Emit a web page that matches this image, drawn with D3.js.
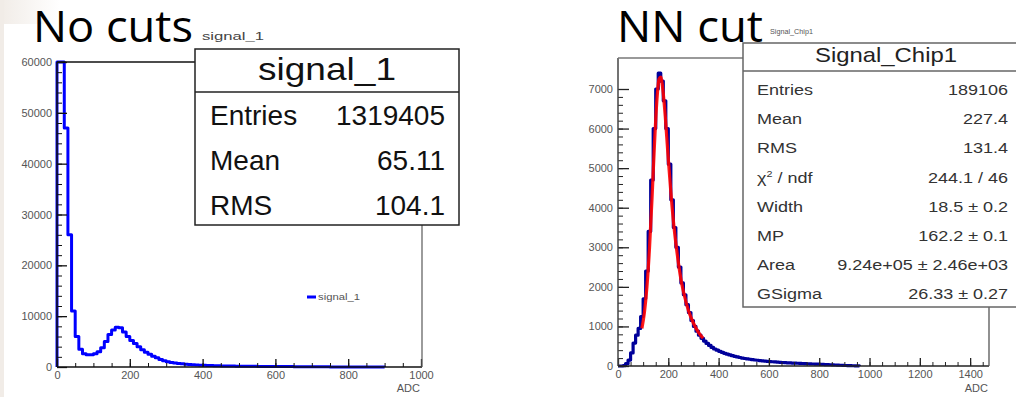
<!DOCTYPE html>
<html><head><meta charset="utf-8">
<script src="https://cdn.jsdelivr.net/npm/d3@7"></script>
<style>
html,body{margin:0;padding:0;background:#fff;}
svg{display:block;}
</style></head>
<body>
<svg id="c" width="1016" height="397" font-family="'Liberation Sans',Arial,Helvetica,sans-serif"></svg>
<script>
// ---------- DATA ----------
const binWidth = 10; // ADC per bin
// Left: "No cuts" histogram counts, bins of 10 ADC starting at 0
const leftCounts = [
 60000,60000,47000,26000,11000,6000,3500,2600,2400,2400,
 2600,3000,3800,5000,6400,7300,7800,7700,6900,6000,
 5200,4600,4000,3400,2900,2500,2100,1800,1500,1250,
 1050,900,800,700,620,550,490,440,400,360,
 330,300,280,260,240,220,200,190,180,170,
 160,150,140,130,125,120,115,110,105,100,
 95,90,85,80,75,70,65,60,55,50,
 45,40,35,30,25,20,15,12,10,8,
 6,5,4,3,3,2,2,1,1,1
];
// Right: "NN cut" histogram counts, bins of 10 ADC starting at 0
const rightCounts = [
 0,0,10,60,150,330,580,780,950,1250,
 1700,2400,3400,4700,6000,7000,7400,7200,6700,6000,
 5100,4200,3500,3000,2500,2100,1800,1550,1350,1150,
 1000,880,780,700,630,570,520,470,430,400,
 370,345,320,300,280,260,245,230,215,200,
 190,180,170,160,152,145,138,130,124,118,
 112,107,102,97,93,89,85,81,78,75,
 72,69,66,63,60,57,54,51,48,45,
 42,40,37,34,31,28,25,22,19,16,
 13,10,8,6,4,2
];
// Fit curve (Landau x Gauss): [ADC, counts]
const fitADC    = [95,105,115,125,135,145,155,163,170,178,188,198,210,222,235,250,265,280,300,320,338];
const fitCounts = [950,1350,2000,2950,4200,5600,6750,7250,7300,7000,6300,5400,4400,3550,2850,2200,1750,1400,1080,850,700];

const leftYTicks  = [0,10000,20000,30000,40000,50000,60000];
const leftXTicks  = [0,200,400,600,800,1000];
const rightYTicks = [0,1000,2000,3000,4000,5000,6000,7000];
const rightXTicks = [0,200,400,600,800,1000,1200,1400];

const leftStatLabels  = ["Entries","Mean","RMS"];
const leftStatValues  = ["1319405","65.11","104.1"];
const rightStatLabels = ["Entries","Mean","RMS","χ2 / ndf","Width","MP","Area","GSigma"];
const rightStatValues = ["189106","227.4","131.4","244.1 / 46","18.5 ± 0.2","162.2 ± 0.1","9.24e+05 ± 2.46e+03","26.33 ± 0.27"];

// ---------- DRAW ----------
const svg = d3.select("#c");
const defs = svg.append("defs");
const gr = defs.append("linearGradient").attr("id","tl").attr("x1","0").attr("x2","1");
gr.append("stop").attr("offset","0").attr("stop-color","#f1ece7");
gr.append("stop").attr("offset","1").attr("stop-color","#ffffff");
defs.append("filter").attr("id","soft").append("feGaussianBlur").attr("stdDeviation",0.45);
svg.append("rect").attr("x",0).attr("y",0).attr("width",60).attr("height",24).attr("fill","url(#tl)");
svg.append("rect").attr("x",0).attr("y",0).attr("width",4).attr("height",397).attr("fill","#f1ece7");

function histPath(counts, x, y){
  const pts = counts.map((v,i)=>[i*binWidth, v]);
  pts.unshift([0,0]);
  pts.push([counts.length*binWidth, 0]);
  return d3.line().x(d=>x(d[0])).y(d=>y(d[1])).curve(d3.curveStepAfter)(pts);
}

function drawAxes(g, x, y, opt){
  const yMinor = d3.range(0, y.domain()[1]+1e-9, opt.yMinor).filter(v=>y(v)>=opt.top-0.5);
  g.append("g").attr("transform",`translate(${x(0)},0)`)
    .call(d3.axisLeft(y).tickValues(yMinor).tickSize(-opt.yMinorLen).tickFormat(""))
    .call(s=>{s.select(".domain").remove(); s.selectAll("line").attr("stroke",opt.tickColor);});
  g.append("g").attr("transform",`translate(${x(0)},0)`)
    .call(d3.axisLeft(y).tickValues(opt.yTicks).tickSize(-opt.yMajorLen).tickPadding(5).tickFormat(d3.format("d")))
    .call(s=>{s.select(".domain").remove(); s.selectAll("line").attr("stroke",opt.tickColor).attr("stroke-width",1.3);
      s.selectAll("text").attr("font-size",11).attr("fill","#555").attr("font-family",null);});
  const xMinor = d3.range(0, x.domain()[1]+1e-9, opt.xMinor);
  g.append("g").attr("transform",`translate(0,${y(0)})`)
    .call(d3.axisBottom(x).tickValues(xMinor).tickSize(-opt.xMinorLen).tickFormat(""))
    .call(s=>{s.select(".domain").remove(); s.selectAll("line").attr("stroke",opt.tickColor);});
  g.append("g").attr("transform",`translate(0,${y(0)})`)
    .call(d3.axisBottom(x).tickValues(opt.xTicks).tickSize(-opt.xMajorLen).tickPadding(4).tickFormat(d3.format("d")))
    .call(s=>{s.select(".domain").remove(); s.selectAll("line").attr("stroke",opt.tickColor).attr("stroke-width",1.3);
      s.selectAll("text").attr("font-size",11).attr("fill","#555").attr("font-family",null);});
  g.selectAll(".tick text").style("font-family","'Liberation Sans',Arial,sans-serif");
  g.append("text").attr("x",x.range()[1]-1).attr("y",392).attr("text-anchor","end")
    .attr("font-size",11).attr("fill","#555").text("ADC");
}

// ===== LEFT PANEL =====
const xL = d3.scaleLinear().domain([0,1000]).range([57,421]);
const yL = d3.scaleLinear().domain([0,60000]).range([367,62]);
const gL = svg.append("g");

gL.append("path").attr("d",histPath(leftCounts,xL,yL))
  .attr("fill","none").attr("stroke","#0000ff").attr("stroke-width",3).attr("stroke-linejoin","round")
  .attr("filter","url(#soft)");

drawAxes(gL, xL, yL, {top:62, yTicks:leftYTicks, xTicks:leftXTicks, yMinor:2000, xMinor:50,
  yMajorLen:10, yMinorLen:5, xMajorLen:8, xMinorLen:4, tickColor:"#111"});

gL.append("line").attr("x1",xL(0)).attr("x2",xL(0)).attr("y1",yL(60000)).attr("y2",yL(0)).attr("stroke","#111").attr("stroke-width",1.5);
gL.append("line").attr("x1",xL(0)).attr("x2",xL(1000)+1).attr("y1",yL(0)).attr("y2",yL(0)).attr("stroke","#111").attr("stroke-width",1.5);
gL.append("line").attr("x1",xL(0)).attr("x2",196).attr("y1",yL(60000)).attr("y2",yL(60000)).attr("stroke","#111").attr("stroke-width",1.5);
gL.append("line").attr("x1",xL(1000)+1).attr("x2",xL(1000)+1).attr("y1",225).attr("y2",yL(0)).attr("stroke","#666").attr("stroke-width",1.3);

gL.append("line").attr("x1",307).attr("x2",316).attr("y1",297).attr("y2",297).attr("stroke","#0000ff").attr("stroke-width",3);
gL.append("text").attr("x",318).attr("y",300).attr("font-size",9).attr("fill","#555").attr("textLength",42).attr("lengthAdjust","spacingAndGlyphs").text("signal_1");

gL.append("text").attr("x",202).attr("y",40).attr("font-size",11).attr("fill","#444").attr("textLength",62).attr("lengthAdjust","spacingAndGlyphs").text("signal_1");

gL.append("rect").attr("x",195).attr("y",49).attr("width",264).attr("height",176).attr("fill","#fff").attr("stroke","#222").attr("stroke-width",1.5);
gL.append("line").attr("x1",195).attr("x2",459).attr("y1",92).attr("y2",92).attr("stroke","#222").attr("stroke-width",1.5);
gL.append("text").attr("x",327).attr("y",80).attr("text-anchor","middle").attr("font-size",32).attr("fill","#111")
  .attr("textLength",138).attr("lengthAdjust","spacingAndGlyphs").text("signal_1");
leftStatLabels.forEach((l,i)=>{
  const by = 125 + i*45;
  gL.append("text").attr("x",210).attr("y",by).attr("font-size",28).attr("fill","#111").text(l);
  gL.append("text").attr("x",445).attr("y",by).attr("font-size",28).attr("fill","#111").attr("text-anchor","end").text(leftStatValues[i]);
});

svg.append("text").attr("x",33).attr("y",42).style("font-family","'Open Sans','Noto Sans',sans-serif")
  .attr("font-size",44).attr("fill","#000").attr("textLength",160).attr("lengthAdjust","spacingAndGlyphs").text("No cuts");

// ===== RIGHT PANEL =====
const xR = d3.scaleLinear().domain([0,1475]).range([618,989]);
const yR = d3.scaleLinear().domain([0,7000]).range([366,89]);
const topR = 58;
const gR = svg.append("g");

gR.append("path").attr("d",histPath(rightCounts,xR,yR))
  .attr("fill","none").attr("stroke","#00009a").attr("stroke-width",3.2).attr("stroke-linejoin","round")
  .attr("filter","url(#soft)");
gR.append("path")
  .attr("d", d3.line().x((d,i)=>xR(fitADC[i])).y(d=>yR(d)).curve(d3.curveMonotoneX)(fitCounts))
  .attr("fill","none").attr("stroke","#ff0000").attr("stroke-width",3.2).attr("stroke-opacity",0.9)
  .attr("filter","url(#soft)");

drawAxes(gR, xR, yR, {top:topR, yTicks:rightYTicks, xTicks:rightXTicks, yMinor:200, xMinor:50,
  yMajorLen:11, yMinorLen:5, xMajorLen:8, xMinorLen:4, tickColor:"#222"});

gR.append("line").attr("x1",xR(0)).attr("x2",xR(0)).attr("y1",topR).attr("y2",yR(0)).attr("stroke","#444").attr("stroke-width",1.5);
gR.append("line").attr("x1",xR(0)).attr("x2",xR(1475)).attr("y1",yR(0)).attr("y2",yR(0)).attr("stroke","#222").attr("stroke-width",1.5);
gR.append("line").attr("x1",xR(0)).attr("x2",744).attr("y1",topR).attr("y2",topR).attr("stroke","#777").attr("stroke-width",1.5);
gR.append("line").attr("x1",xR(1475)).attr("x2",xR(1475)).attr("y1",307).attr("y2",yR(0)).attr("stroke","#555").attr("stroke-width",1.3);

gR.append("text").attr("x",770).attr("y",34).attr("font-size",7).attr("fill","#555").attr("textLength",43).attr("lengthAdjust","spacingAndGlyphs").text("Signal_Chip1");

gR.append("rect").attr("x",743).attr("y",43).attr("width",290).attr("height",264).attr("fill","#fff").attr("stroke","#666").attr("stroke-width",1.5);
gR.append("line").attr("x1",743).attr("x2",1016).attr("y1",71).attr("y2",71).attr("stroke","#666").attr("stroke-width",1.3);
gR.append("text").attr("x",886).attr("y",62).attr("text-anchor","middle").attr("font-size",21).attr("fill","#222")
  .attr("textLength",142).attr("lengthAdjust","spacingAndGlyphs").text("Signal_Chip1");
rightStatLabels.forEach((l,i)=>{
  const by = 95 + i*29.2;
  const tl = gR.append("text").attr("transform",`translate(757,${by}) scale(1.2,1)`).attr("font-size",15).attr("fill","#333");
  if (l.startsWith("χ2")) {
    tl.append("tspan").text("χ");
    tl.append("tspan").attr("font-size",9).attr("dy",-6).text("2");
    tl.append("tspan").attr("dy",6).text(" / ndf");
  } else tl.text(l);
  gR.append("text").attr("transform",`translate(1008,${by}) scale(1.2,1)`).attr("font-size",15).attr("fill","#333")
    .attr("text-anchor","end").text(rightStatValues[i]);
});

svg.append("text").attr("x",617).attr("y",42).style("font-family","'Open Sans','Noto Sans',sans-serif")
  .attr("font-size",44).attr("fill","#000").attr("textLength",146).attr("lengthAdjust","spacingAndGlyphs").text("NN cut");
</script>
</body></html>
